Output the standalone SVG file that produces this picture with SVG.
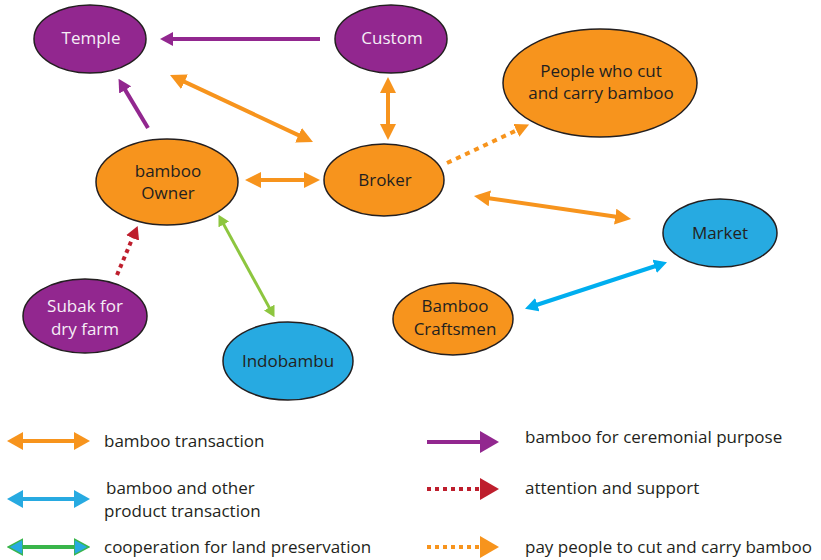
<svg xmlns="http://www.w3.org/2000/svg" width="821" height="560" viewBox="0 0 821 560">
<style>
.node ellipse{stroke:#231f20;stroke-width:1.5}
.p ellipse{fill:#92278f}
.o ellipse{fill:#f7941d}
.b ellipse{fill:#27aae1}
text{font-family:"Open Sans","Liberation Sans",sans-serif;font-size:17px;text-anchor:middle;fill:#231f20}
.p text{fill:#f6eef6}
.leg text{text-anchor:start;font-size:17px;fill:#231f20}
.c line{fill:none}
.or{stroke:#f7941d;stroke-width:4}
.pu{stroke:#92278f;stroke-width:4}
.bl{stroke:#00aeef;stroke-width:4}
.gr{stroke:#8dc63f;stroke-width:3}
.rd{stroke:#be1e2d;stroke-width:4;stroke-dasharray:4 4}
.od{stroke:#f7941d;stroke-width:4;stroke-dasharray:5 5}
.lg{stroke:#39b54a;stroke-width:4}
</style>
<defs>
<marker id="mo" markerUnits="userSpaceOnUse" viewBox="0 -8 16 16" refX="1" refY="0" markerWidth="16" markerHeight="16" orient="auto-start-reverse"><path d="M0,-8L16,0L0,8z" fill="#f7941d"/></marker>
<marker id="mp" markerUnits="userSpaceOnUse" viewBox="0 -7 13 14" refX="1" refY="0" markerWidth="13" markerHeight="14" orient="auto-start-reverse"><path d="M0,-7L13,0L0,7z" fill="#92278f"/></marker>
<marker id="mb" markerUnits="userSpaceOnUse" viewBox="0 -7 13 14" refX="1" refY="0" markerWidth="13" markerHeight="14" orient="auto-start-reverse"><path d="M0,-7L13,0L0,7z" fill="#00aeef"/></marker>
<marker id="mg" markerUnits="userSpaceOnUse" viewBox="0 -6 11 12" refX="1" refY="0" markerWidth="11" markerHeight="12" orient="auto-start-reverse"><path d="M0,-6L11,0L0,6z" fill="#8dc63f"/></marker>
<marker id="mr" markerUnits="userSpaceOnUse" viewBox="0 -7 13 14" refX="1" refY="0" markerWidth="13" markerHeight="14" orient="auto-start-reverse"><path d="M0,-7L13,0L0,7z" fill="#be1e2d"/></marker>
<marker id="mod" markerUnits="userSpaceOnUse" viewBox="0 -7 14 14" refX="1" refY="0" markerWidth="14" markerHeight="14" orient="auto-start-reverse"><path d="M0,-7L14,0L0,7z" fill="#f7941d"/></marker>
<marker id="Lo" markerUnits="userSpaceOnUse" viewBox="0 -9 16 18" refX="1" refY="0" markerWidth="16" markerHeight="18" orient="auto-start-reverse"><path d="M0,-9L16,0L0,9z" fill="#f7941d"/></marker>
<marker id="Lb" markerUnits="userSpaceOnUse" viewBox="0 -9 16 18" refX="1" refY="0" markerWidth="16" markerHeight="18" orient="auto-start-reverse"><path d="M0,-9L16,0L0,9z" fill="#27aae1"/></marker>
<marker id="Lg" markerUnits="userSpaceOnUse" viewBox="0 -9 16 18" refX="1" refY="0" markerWidth="16" markerHeight="18" orient="auto-start-reverse"><path d="M0,-8L15,0L0,8z" fill="#27aae1" stroke="#39b54a" stroke-width="1.5"/></marker>
<marker id="Lp" markerUnits="userSpaceOnUse" viewBox="0 -11 19 22" refX="1" refY="0" markerWidth="19" markerHeight="22" orient="auto"><path d="M0,-11L19,0L0,11z" fill="#92278f"/></marker>
<marker id="Lr" markerUnits="userSpaceOnUse" viewBox="0 -11 19 22" refX="1" refY="0" markerWidth="19" markerHeight="22" orient="auto"><path d="M0,-11L19,0L0,11z" fill="#be1e2d"/></marker>
<marker id="Lod" markerUnits="userSpaceOnUse" viewBox="0 -11 19 22" refX="1" refY="0" markerWidth="19" markerHeight="22" orient="auto"><path d="M0,-11L19,0L0,11z" fill="#f7941d"/></marker>
</defs>

<g id="temple" class="node p"><ellipse cx="90" cy="39" rx="56" ry="34"/><text x="91" y="44">Temple</text></g>
<g id="custom" class="node p"><ellipse cx="391" cy="39" rx="56" ry="34"/><text x="392" y="44">Custom</text></g>
<g id="people" class="node o"><ellipse cx="600" cy="83" rx="97" ry="54"/><text x="601" y="77">People who cut</text><text x="601" y="99">and carry bamboo</text></g>
<g id="owner" class="node o"><ellipse cx="167" cy="182" rx="71" ry="43"/><text x="168" y="177">bamboo</text><text x="168" y="199">Owner</text></g>
<g id="broker" class="node o"><ellipse cx="384" cy="180" rx="60" ry="36"/><text x="385" y="186">Broker</text></g>
<g id="market" class="node b"><ellipse cx="720" cy="233" rx="57" ry="34"/><text x="720" y="239">Market</text></g>
<g id="craftsmen" class="node o"><ellipse cx="453" cy="319" rx="60" ry="36"/><text x="455" y="312">Bamboo</text><text x="455" y="335">Craftsmen</text></g>
<g id="subak" class="node p"><ellipse cx="85" cy="316" rx="62" ry="37"/><text x="85" y="312">Subak for</text><text x="85" y="335">dry farm</text></g>
<g id="indobambu" class="node b"><ellipse cx="288" cy="361" rx="65" ry="39"/><text x="288" y="367">Indobambu</text></g>

<g id="connectors" class="c">
<line class="pu" x1="320" y1="39" x2="172" y2="39" marker-end="url(#mp)"/>
<line class="pu" x1="148" y1="128" x2="124.7" y2="89.1" marker-end="url(#mp)"/>
<line class="or" x1="183.6" y1="81.4" x2="299.4" y2="135.6" marker-start="url(#mo)" marker-end="url(#mo)"/>
<line class="or" x1="388" y1="92" x2="388" y2="125" marker-start="url(#mo)" marker-end="url(#mo)"/>
<line class="or" x1="260" y1="180" x2="305" y2="180" marker-start="url(#mo)" marker-end="url(#mo)"/>
<line class="or" x1="488.8" y1="198.2" x2="616.2" y2="216.8" marker-start="url(#mo)" marker-end="url(#mo)"/>
<line class="bl" x1="655.6" y1="266" x2="536.4" y2="305" marker-start="url(#mb)" marker-end="url(#mb)"/>
<line class="gr" x1="223.3" y1="223.6" x2="269.7" y2="308.4" marker-start="url(#mg)" marker-end="url(#mg)"/>
<line class="rd" x1="117" y1="275" x2="133" y2="237" marker-end="url(#mr)"/>
<line class="od" x1="447" y1="163" x2="517.3" y2="130" marker-end="url(#mod)"/>
</g>

<g id="legend" class="leg">
<line class="or" x1="22" y1="441" x2="75" y2="441" marker-start="url(#Lo)" marker-end="url(#Lo)"/>
<text x="104" y="447">bamboo transaction</text>
<line style="stroke:#27aae1;stroke-width:4" x1="22" y1="499" x2="75" y2="499" marker-start="url(#Lb)" marker-end="url(#Lb)"/>
<text x="106" y="494">bamboo and other</text>
<text x="104" y="517">product transaction</text>
<line class="lg" x1="22" y1="547" x2="75" y2="547" marker-start="url(#Lg)" marker-end="url(#Lg)"/>
<text x="104" y="553">cooperation for land preservation</text>
<line class="pu" x1="427" y1="442" x2="481" y2="442" marker-end="url(#Lp)"/>
<text x="525" y="443">bamboo for ceremonial purpose</text>
<line class="rd" x1="427" y1="489" x2="481" y2="489" marker-end="url(#Lr)"/>
<text x="525" y="494">attention and support</text>
<line style="stroke:#f7941d;stroke-width:4;stroke-dasharray:4 4" x1="427" y1="547" x2="481" y2="547" marker-end="url(#Lod)"/>
<text x="525" y="553">pay people to cut and carry bamboo</text>
</g>
</svg>
